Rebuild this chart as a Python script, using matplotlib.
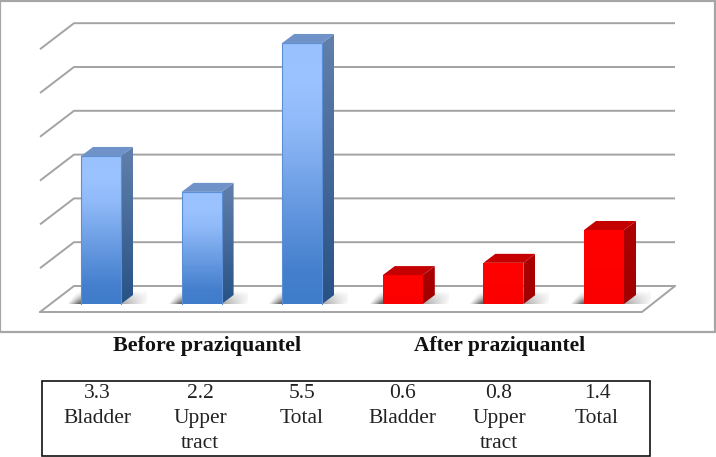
import numpy as np
import matplotlib
matplotlib.use("Agg")
import matplotlib.pyplot as plt
from matplotlib.colors import LinearSegmentedColormap as LSC
from matplotlib.patches import Polygon, Rectangle

table_values = ["3.3", "2.2", "5.5", "0.6", "0.8", "1.4"]
table_labels = ["Bladder", "Upper\ntract", "Total", "Bladder", "Upper\ntract", "Total"]
bar_heights = [3.38, 2.56, 5.96, 0.66, 0.94, 1.69]   # heights as drawn in the picture
groups = ["Before praziquantel", "After praziquantel"]
grid_levels = [0, 1, 2, 3, 4, 5, 6]
table_centres_px = [97, 200, 302, 402, 499, 597]

W, H = 716, 457
PX_X, PX_Y = 100.6, 43.8      # pixels per category / per value
X0, Y0 = 101.0, 304.0         # pixel of category 0 centre / value 0
fig = plt.figure(figsize=(W / 100, H / 100), dpi=100)
ax = fig.add_axes([0, 0, 1, 1])
ax.axis("off")
xlim = (-X0 / PX_X, (W - X0) / PX_X)
ylim = ((Y0 - H) / PX_Y, Y0 / PX_Y)

def dx(p): return p / PX_X
def X(p): return (p - X0) / PX_X
def Y(p): return (Y0 - p) / PX_Y

GRID = "#a3a3a3"
# outer frame
ax.add_patch(Rectangle((X(0.5), Y(332)), dx(714.5), Y(0.5) - Y(332), fc="white", ec="#a6a6a6", lw=1.6, zorder=0))

# gridlines: the back wall sits 18 px above the bar baseline
BASE = 18 / PX_Y
for g in grid_levels:
    yb = BASE + g
    ax.plot([X(40), X(74), X(675)], [yb - 26 / PX_Y, yb, yb], color=GRID, lw=1.4, zorder=1, solid_capstyle="butt")
# front floor edge and right edge
ax.plot([X(40), X(642), X(675)], [BASE - 26 / PX_Y, BASE - 26 / PX_Y, BASE], color=GRID, lw=1.4, zorder=1)

blue_front = LSC.from_list("bf", [(0, "#3f7cca"), (0.12, "#447fcd"), (0.68, "#8fb9f8"), (0.85, "#9ac3ff"), (1, "#98c1fd")])
blue_side = LSC.from_list("bs", [(0, "#275286"), (1, "#6280ac")])
red_front = LSC.from_list("rf", ["#fb0000", "#ff0000"])
red_side = LSC.from_list("rs", ["#a00000", "#ae0000"])

W_BAR, DX_D, DY_D = 40 / PX_X, 12 / PX_X, 9 / PX_Y
grad = np.linspace(1, 0, 128).reshape(-1, 1)

def fill(poly, cmap, y0, y1, z):
    xs = [p[0] for p in poly]
    im = ax.imshow(grad, cmap=cmap, vmin=0, vmax=1, aspect="auto", zorder=z,
                   extent=(min(xs), max(xs), y0, y1), interpolation="bilinear")
    clip = Polygon(poly, transform=ax.transData, fc="none", ec="none")
    ax.add_patch(clip)
    im.set_clip_path(clip)

for i, h in enumerate(bar_heights):
    blue = i < 3
    l, r = i - W_BAR / 2, i + W_BAR / 2
    # floor shadow, skewed backwards and fading to the back and to both sides
    u = np.linspace(0, 1, 90)[None, :]
    v = np.linspace(0, 1, 30)[:, None]
    us = u - (1 - v) * 0.12
    a = np.clip(np.minimum(us * 7, (1 - us) * 1.8), 0, 1) * (v ** 0.9) * 0.9
    rgba = np.zeros((30, 90, 4)); rgba[..., :3] = 0.32; rgba[..., 3] = a
    ax.imshow(rgba, aspect="auto", zorder=2, extent=(l - dx(14), r + dx(26), 0, 13 / PX_Y), interpolation="bilinear")
    front = [(l, 0), (r, 0), (r, h), (l, h)]
    side = [(r, 0), (r + DX_D, DY_D), (r + DX_D, h + DY_D), (r, h)]
    top = [(l, h), (r, h), (r + DX_D, h + DY_D), (l + DX_D, h + DY_D)]
    fill(front, blue_front if blue else red_front, 0, h, 3)
    fill(side, blue_side if blue else red_side, 0, h + DY_D, 3)
    ax.add_patch(Polygon(top, fc="#6f93c8" if blue else "#c40000", ec="none", zorder=3))
    if blue:
        ax.plot([l, l, r, r], [0, h, h, 0], color="#5c8fd6", lw=0.8, zorder=4)

# group titles
SERIF = ["Liberation Serif"]
ax.text(X(207.5), Y(351), groups[0], ha="center", va="baseline", fontsize=15.8, fontweight="bold", family=SERIF, color="#111111", zorder=5)
ax.text(X(499.5), Y(351), groups[1], ha="center", va="baseline", fontsize=15.5, fontweight="bold", family=SERIF, color="#111111", zorder=5)

# table box
ax.add_patch(Rectangle((X(42.5), Y(456)), dx(607.5), Y(380.5) - Y(456), fc="white", ec="#111111", lw=1.2, zorder=5))
for cx, val, lab in zip(table_centres_px, table_values, table_labels):
    ax.text(X(cx), Y(398), val, ha="center", va="baseline", fontsize=15.5, family=SERIF, color="#222222", zorder=6)
    for j, line in enumerate(lab.split("\n")):
        ax.text(X(cx), Y(423 + 25 * j), line, ha="center", va="baseline", fontsize=15.5, family=SERIF, color="#222222", zorder=6)

ax.set_xlim(*xlim)
ax.set_ylim(*ylim)
fig.savefig("out.png", dpi=100)
